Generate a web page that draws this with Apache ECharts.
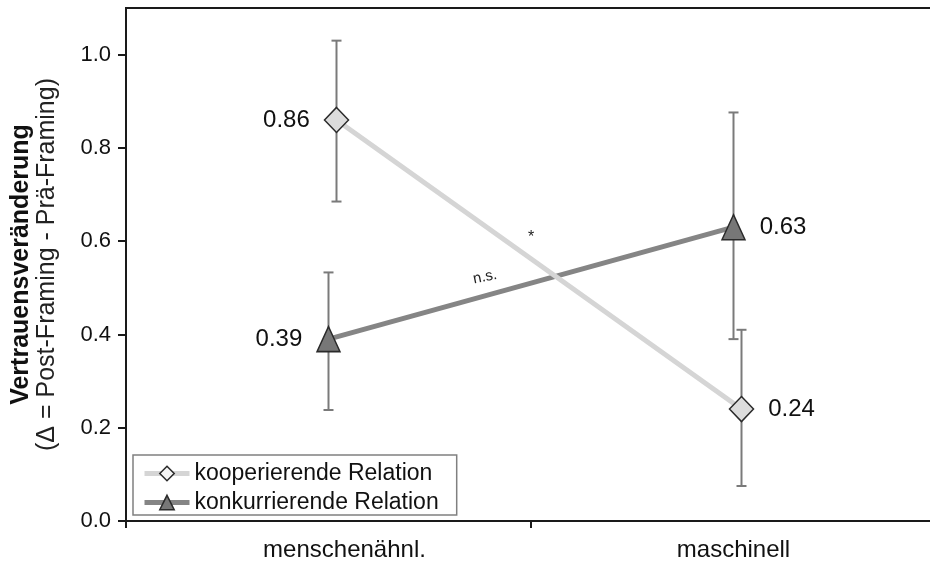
<!DOCTYPE html>
<html>
<head>
<meta charset="utf-8">
<script src="https://cdn.jsdelivr.net/npm/echarts@6/dist/echarts.min.js"></script>
<style>html,body{margin:0;padding:0;background:#fff;overflow:hidden;width:930px;height:568px;}#c{width:950px;height:568px;}</style>
</head>
<body>
<div id="c"></div>
<script>
// ---- data ----
const categories = ['menschenähnl.', 'maschinell'];
const coopName = 'kooperierende Relation';
const compName = 'konkurrierende Relation';
const coopMean = [0.86, 0.24];
const coopLow  = [0.685, 0.075];
const coopHigh = [1.03, 0.41];
const compMean = [0.39, 0.63];
const compLow  = [0.238, 0.39];
const compHigh = [0.533, 0.876];
const yTicks = [0, 0.2, 0.4, 0.6, 0.8, 1.0];

const FONT = '"Liberation Sans", Arial, sans-serif';
const chart = echarts.init(document.getElementById('c'), null, {renderer: 'canvas'});

function errData(low, high) {
  return categories.map((c, i) => [i, low[i], high[i]]);
}
function errRender(params, api) {
  const x = api.value(0);
  const p1 = api.coord([x, api.value(1)]);
  const p2 = api.coord([x, api.value(2)]);
  const cap = 5;
  const st = {stroke: '#7a7a7a', lineWidth: 2};
  return {
    type: 'group',
    children: [
      {type: 'line', shape: {x1: p1[0], y1: p1[1], x2: p2[0], y2: p2[1]}, style: st},
      {type: 'line', shape: {x1: p1[0] - cap, y1: p1[1], x2: p1[0] + cap, y2: p1[1]}, style: st},
      {type: 'line', shape: {x1: p2[0] - cap, y1: p2[1], x2: p2[0] + cap, y2: p2[1]}, style: st}
    ]
  };
}
function labeled(vals) {
  return vals.map((v, i) => ({value: v, label: {position: i === 0 ? 'left' : 'right'}}));
}
const labelStyle = {
  show: true, distance: 14, fontSize: 24, color: '#111', fontFamily: FONT,
  formatter: p => Number(p.value).toFixed(2)
};

const option = {
  animation: false,
  backgroundColor: '#fff',
  textStyle: {fontFamily: FONT},
  grid: [
    {left: 126, right: 14, top: 8, bottom: 47, show: true, borderColor: '#1a1a1a', borderWidth: 2, backgroundColor: '#fff'},
    {left: 134, right: 6, top: 8, bottom: 47, show: false}
  ],
  xAxis: [
    {
      type: 'category', gridIndex: 0, data: categories, boundaryGap: true,
      axisLine: {lineStyle: {color: '#1a1a1a', width: 2}},
      axisTick: {show: true, length: 7, lineStyle: {color: '#1a1a1a', width: 2}},
      axisLabel: {
        fontSize: 24, color: '#111', margin: 17, fontFamily: FONT,
        formatter: (v, i) => i === 0 ? '{a|' + v + '}' : v,
        rich: {a: {fontSize: 24, color: '#111', fontFamily: FONT, padding: [0, 0, 0, 32]}}
      },
      splitLine: {show: false}
    },
    {type: 'category', gridIndex: 1, data: categories, boundaryGap: true, show: false}
  ],
  yAxis: [
    {
      type: 'value', gridIndex: 0, min: 0, max: 1.1, interval: 0.2,
      axisLine: {show: true, lineStyle: {color: '#1a1a1a', width: 2}},
      axisTick: {show: true, length: 8, lineStyle: {color: '#1a1a1a', width: 2}, customValues: yTicks},
      axisLabel: {fontSize: 22, color: '#111', margin: 15, fontFamily: FONT, customValues: yTicks,
                  formatter: v => Number(v).toFixed(1)},
      splitLine: {show: false},
      name: '{b|Vertrauensveränderung}\n{n|(Δ = Post-Framing - Prä-Framing)}',
      nameLocation: 'middle', nameRotate: 90, nameGap: 66,
      nameTextStyle: {
        fontFamily: FONT,
        rich: {
          b: {fontWeight: 'bold', fontSize: 25, lineHeight: 26, color: '#111', fontFamily: FONT},
          n: {fontSize: 25, lineHeight: 26, color: '#222', fontFamily: FONT}
        }
      }
    },
    {type: 'value', gridIndex: 1, min: 0, max: 1.1, show: false}
  ],
  legend: {
    orient: 'vertical', left: 133, top: 455,
    data: [
      {name: coopName, lineStyle: {width: 5, color: '#d5d5d5'}, itemStyle: {color: '#f4f4f4', borderColor: '#2a2a2a', borderWidth: 1.5}},
      {name: compName, lineStyle: {width: 5, color: '#858585'}, itemStyle: {color: '#777777', borderColor: '#2a2a2a', borderWidth: 1.5}}
    ],
    backgroundColor: '#fff', borderColor: '#808080', borderWidth: 1.5, borderRadius: 0,
    padding: [6, 18, 0, 9], itemGap: 4, itemWidth: 45, itemHeight: 18,
    textStyle: {fontSize: 23, color: '#111', fontFamily: FONT, lineHeight: 25}
  },
  series: [
    {type: 'custom', xAxisIndex: 0, yAxisIndex: 0, data: errData(compLow, compHigh), renderItem: errRender, z: 2, silent: true},
    {type: 'custom', xAxisIndex: 1, yAxisIndex: 1, data: errData(coopLow, coopHigh), renderItem: errRender, z: 2, silent: true},
    {
      name: compName, type: 'line', xAxisIndex: 0, yAxisIndex: 0, z: 3,
      data: labeled(compMean),
      symbol: 'triangle', symbolSize: [23, 25],
      lineStyle: {color: '#858585', width: 5},
      itemStyle: {color: '#777777', borderColor: '#2a2a2a', borderWidth: 1.5},
      label: labelStyle
    },
    {
      name: coopName, type: 'line', xAxisIndex: 1, yAxisIndex: 1, z: 4,
      data: labeled(coopMean),
      symbol: 'diamond', symbolSize: [24, 25],
      lineStyle: {color: '#d5d5d5', width: 5},
      itemStyle: {color: '#dcdcdc', borderColor: '#2a2a2a', borderWidth: 1.5},
      label: labelStyle
    }
  ],
  graphic: [
    {type: 'text', x: 485, y: 277, rotation: 0.2,
     style: {text: 'n.s.', fontSize: 15, fill: '#222', fontFamily: FONT, align: 'center', verticalAlign: 'middle'}, z: 10},
    {type: 'text', x: 531, y: 238,
     style: {text: '*', fontSize: 16, fill: '#222', fontFamily: FONT, align: 'center', verticalAlign: 'middle'}, z: 10}
  ]
};
chart.setOption(option);
</script>
</body>
</html>
